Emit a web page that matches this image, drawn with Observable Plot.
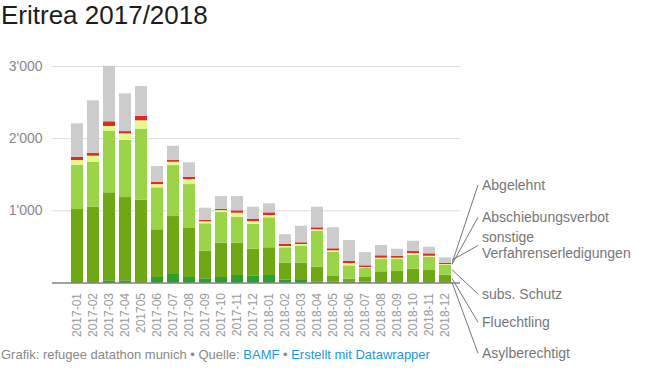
<!DOCTYPE html>
<html><head><meta charset="utf-8">
<script src="https://cdn.jsdelivr.net/npm/d3@7"></script>
<script src="https://cdn.jsdelivr.net/npm/@observablehq/plot@0.6"></script>
<style>
body{margin:0;background:#fff;font-family:"Liberation Sans",Arial,sans-serif;}
#wrap{position:relative;width:655px;height:373px;overflow:hidden}
#title{font-size:26px;line-height:30px;height:45px;padding-left:1px;color:#1d1d1d}
#chart{position:absolute;left:0;top:45px}
#footer{position:absolute;left:1px;top:347px;font-size:13px;line-height:16px;color:#888;white-space:nowrap}
#footer .l{color:#1d9ad6}
</style></head><body>
<div id="wrap">
<div id="title">Eritrea 2017/2018</div>
<div id="chart"></div>
<div id="footer">Grafik: refugee datathon munich • Quelle: <span class="l">BAMF</span> • <span class="l">Erstellt mit Datawrapper</span></div>
</div>
<script>
// ---- data ----
const months = ["2017-01","2017-02","2017-03","2017-04","201705","2017-06","2017-07","2017-08","2017-09","2017-10","2017-11","2017-12",
                "2018-01","2018-02","2018-03","2018-04","2018-05","2018-06","2018-07","2018-08","2018-09","2018-10","2018-11","2018-12"];
const asylberechtigt = [0,0,30,30,0,76,118,76,58,76,104,100,104,40,35,10,10,8,15,5,5,5,5,5];
const fluechtling = [1018,1050,1220,1154,1147,661,803,679,382,475,447,368,384,234,239,209,80,45,61,150,154,186,168,103];
const subsSchutz = [614,623,854,794,983,581,706,609,380,425,360,346,415,214,232,498,337,185,125,170,166,190,184,139];
const abschiebungsverbot = [65,84,65,88,117,46,46,70,28,28,56,38,32,18,27,20,19,32,14,19,19,28,14,9];
const abgelehnt = [45,37,65,32,63,32,24,32,22,18,33,32,37,31,24,28,28,28,23,33,27,27,33,18];
const sonstige = [463,730,770,522,412,218,198,199,166,176,198,166,125,131,230,285,291,291,184,142,97,143,92,75];
const yTicks = [1000,2000,3000];

// stack order bottom -> top
const seriesNames = ["Asylberechtigt","Fluechtling","subs. Schutz","Abschiebungsverbot","Abgelehnt","sonstige Verfahrenserledigungen"];
const seriesValues = [asylberechtigt,fluechtling,subsSchutz,abschiebungsverbot,abgelehnt,sonstige];
const seriesColors = ["#2e9e32","#6fa814","#9bd449","#e4f98c","#dd2a2a","#cccccc"];

const rows = [];
months.forEach((m,i) => seriesNames.forEach((s,j) => rows.push({month:m, series:s, value:seriesValues[j][i]})));

// ---- layout of direct labels (pixel positions inside svg) ----
const labelX = 482;
const labelLayout = [
  {key:"Abgelehnt", lines:["Abgelehnt"], y:140},
  {key:"Abschiebungsverbot", lines:["Abschiebungsverbot"], y:172.3},
  {key:"sonstige Verfahrenserledigungen", lines:["sonstige","Verfahrenserledigungen"], y:200.5},
  {key:"subs. Schutz", lines:["subs. Schutz"], y:249},
  {key:"Fluechtling", lines:["Fluechtling"], y:277.3},
  {key:"Asylberechtigt", lines:["Asylberechtigt"], y:308.3}
];

const labelMark = (index, scales) => {
  const g = d3.create("svg:g").attr("text-anchor", "start");
  const last = months.length - 1;
  const xr = scales.x(months[last]) + scales.x.bandwidth();
  const mids = {};
  let cum = 0;
  seriesNames.forEach((s,j) => { const v = seriesValues[j][last]; mids[s] = cum + v/2; cum += v; });
  labelLayout.forEach(L => {
    g.append("line")
      .attr("x1", xr + 1).attr("y1", scales.y(mids[L.key]))
      .attr("x2", labelX - 4).attr("y2", L.y)
      .attr("stroke", "#777").attr("stroke-width", 1);
    const n = L.lines.length;
    L.lines.forEach((t,k) => {
      g.append("text")
        .attr("x", labelX).attr("y", L.y + (k - (n-1)/2) * 16)
        .attr("dy", "0.35em")
        .attr("text-anchor", "start")
        .attr("fill", "#777").attr("font-size", 14)
        .text(t);
    });
  });
  return g.node();
};

const fmt = d => d3.format(",")(d).replace(/,/g, "'");

const chart = Plot.plot({
  width: 655, height: 328,
  marginLeft: 52, marginRight: 195, marginTop: 21, marginBottom: 90.5,
  style: {fontFamily: "'Liberation Sans', Arial, sans-serif", background: "#fff"},
  x: {domain: months, padding: 0.25, insetLeft: 10, label: null},
  y: {domain: [0, 3000], label: null},
  color: {domain: seriesNames, range: seriesColors},
  marks: [
    Plot.gridY(yTicks, {stroke: "#dcdcdc", strokeOpacity: 1}),
    Plot.barY(rows, {x: "month", y: "value", fill: "series", order: seriesNames}),
    Plot.ruleY([0], {stroke: "#444", strokeWidth: 1.2}),
    Plot.axisY(yTicks, {tickSize: 0, tickPadding: 10, tickFormat: fmt, fontSize: 14, color: "#888", label: null}),
    Plot.axisX({tickRotate: -90, tickSize: 0, tickPadding: 10, fontSize: 12, color: "#999", label: null}),
    labelMark
  ]
});
document.getElementById("chart").appendChild(chart);
</script>
</body></html>
